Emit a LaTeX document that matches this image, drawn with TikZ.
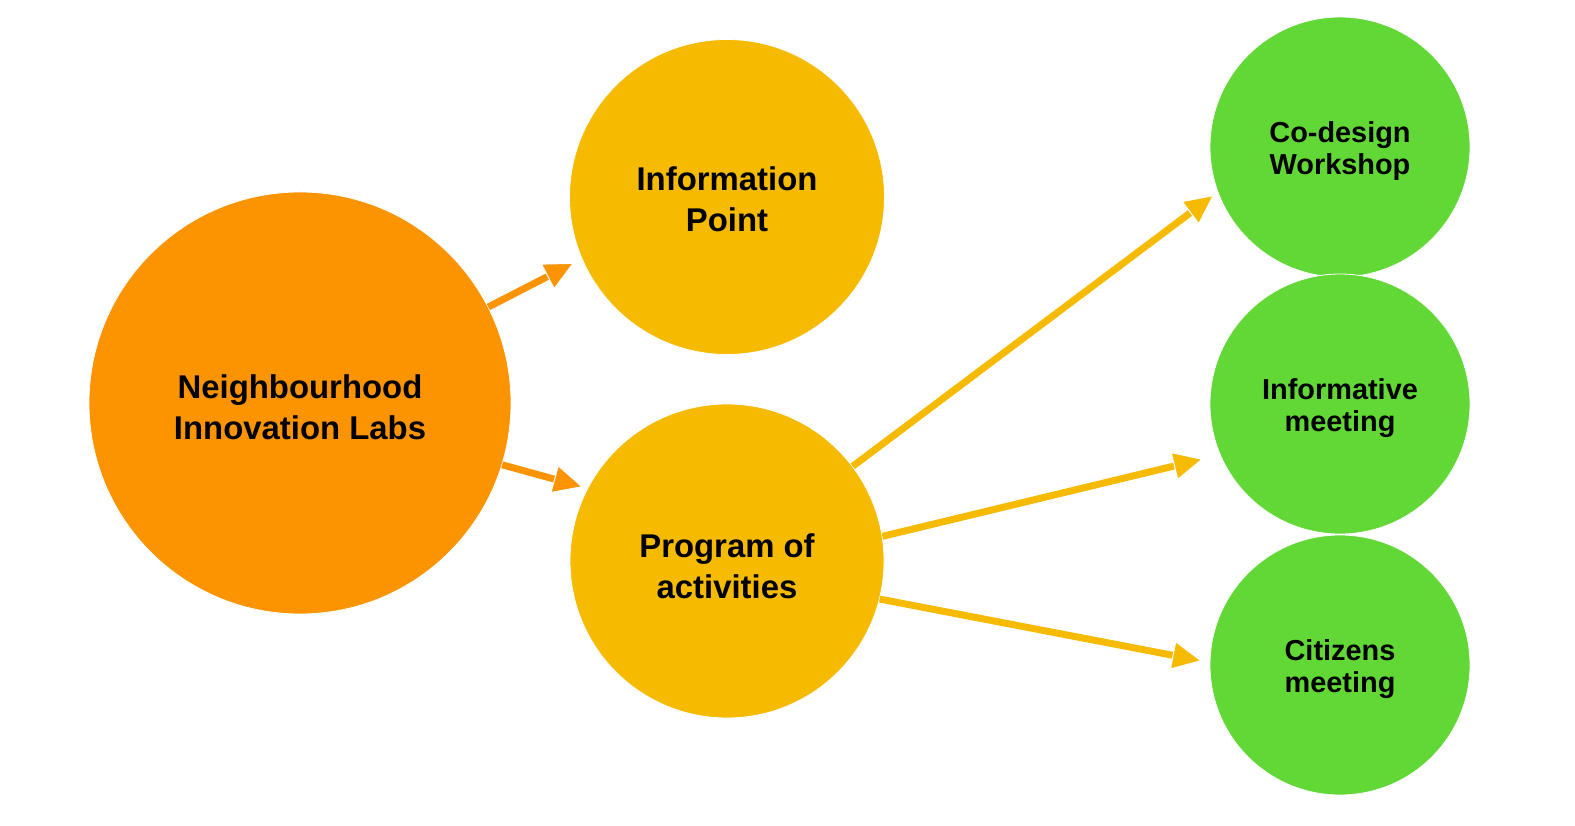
\documentclass[tikz,border=0pt]{standalone}
\usepackage{fontspec}
\setmainfont{Liberation Sans}
\usetikzlibrary{arrows.meta,calc}
\definecolor{orangeC}{HTML}{FB9400}
\definecolor{yellowC}{HTML}{F6BB00}
\definecolor{greenC}{HTML}{62D836}
\tikzset{
  circ/.style={circle,inner sep=0pt,draw=white,line width=0.8pt},
  bigtxt/.style={align=center,inner sep=0pt,text=black,font=\fontsize{33}{41}\selectfont\bfseries},
  smalltxt/.style={align=center,inner sep=0pt,text=black,font=\fontsize{29}{32.5}\selectfont\bfseries},
  conn/.style={line width=7pt,draw=#1,
    -{Triangle[length=30pt,width=29pt,fill=#1,color=white,line width=1pt]}}
}
\begin{document}
\begin{tikzpicture}[x=1bp,y=1bp]
\useasboundingbox (0,0) rectangle (1575,825);
% circles
\node[circ,fill=orangeC,minimum size=422bp] (nil) at (300,422) {};
\node[circ,fill=yellowC,minimum size=315bp] (info) at (727,628) {};
\node[circ,fill=yellowC,minimum size=314bp] (prog) at (727,264) {};
\node[circ,fill=greenC,minimum size=260bp] (cod) at (1340,678) {};
\node[circ,fill=greenC,minimum size=260bp] (inf) at (1340,421) {};
\node[circ,fill=greenC,minimum size=260bp] (cit) at (1340,160) {};
% texts
\node[bigtxt] (nilT) at ($(nil.center)+(0,-4.5)$) {Neighbourhood\\Innovation Labs};
\node[bigtxt] (infoT) at ($(info.center)+(0,-2.5)$) {Information\\Point};
\node[bigtxt] (progT) at ($(prog.center)+(0,-5.5)$) {Program of\\activities};
\node[smalltxt] (codT) at ($(cod.center)+(0,-4)$) {Co-design\\Workshop};
\node[smalltxt] (infT) at ($(inf.center)+(0,-4)$) {Informative\\meeting};
\node[smalltxt] (citT) at ($(cit.center)+(0,-4)$) {Citizens\\meeting};
% connectors
\draw[conn=orangeC] (nil.27) -- ($(info.center)+(203.3:166.6)$);
\draw[conn=orangeC] (nil.-17) -- ($(prog.center)+(152.8:161.9)$);
\draw[conn=yellowC] (prog.37) -- ($(cod.center)+(200.85:134.8)$);
\draw[conn=yellowC] (prog.9) -- ($(inf.center)+(201.9:147.6)$);
\draw[conn=yellowC] (prog.-14) -- ($(cit.center)+(178.3:138.1)$);
\end{tikzpicture}
\end{document}
